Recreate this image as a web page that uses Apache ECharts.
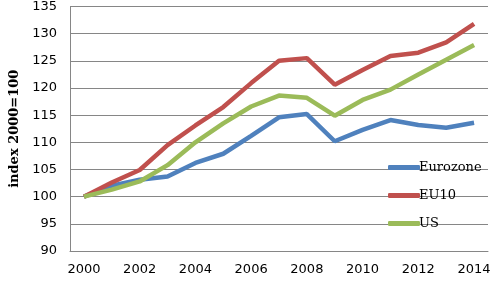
<!DOCTYPE html>
<html><head><meta charset="utf-8">
<script src="https://cdn.jsdelivr.net/npm/echarts@6/dist/echarts.min.js"></script>
<style>html,body{margin:0;padding:0;background:#fff}#c{width:497px;height:282px}</style>
</head><body><div id="c"></div>
<script>
const years = ['2000','2001','2002','2003','2004','2005','2006','2007','2008','2009','2010','2011','2012','2013','2014'];
const eurozone = [100, 102.0, 103.1, 103.7, 106.2, 107.9, 111.2, 114.6, 115.2, 110.2, 112.3, 114.1, 113.2, 112.7, 113.6];
const eu10 = [100, 102.6, 104.9, 109.5, 113.1, 116.5, 120.9, 125.0, 125.5, 120.6, 123.3, 125.9, 126.5, 128.4, 131.8];
const us = [100, 101.3, 102.8, 105.8, 110.0, 113.5, 116.6, 118.6, 118.2, 114.9, 117.8, 119.7, 122.5, 125.2, 127.9];
const yTitle = 'index 2000=100';

const chart = echarts.init(document.getElementById('c'));
const lw = 4.5;
chart.setOption({
  animation: false,
  grid: {left: 63, right: 9, top: 6, bottom: 31, containLabel: false},
  legend: {
    orient: 'vertical', left: 383, top: 155, itemGap: 13,
    itemWidth: 32, itemHeight: 5, icon: 'roundRect',
    textStyle: {fontFamily: 'DejaVu Serif', fontSize: 13, color: '#000', lineHeight: 15, padding: [0,0,0,-6]},
    data: ['Eurozone', 'EU10', 'US']
  },
  xAxis: {
    type: 'category', data: years, boundaryGap: true,
    axisLine: {show: true, lineStyle: {color: '#868686', width: 1}},
    axisTick: {show: false},
    axisLabel: {interval: 1, color: '#000', fontFamily: 'DejaVu Sans', fontSize: 13, margin: 12}
  },
  yAxis: {
    type: 'value', min: 90, max: 135, interval: 5,
    name: yTitle, nameLocation: 'middle', nameGap: 49,
    nameTextStyle: {fontFamily: 'DejaVu Serif', fontWeight: 'bold', fontSize: 13, color: '#000'},
    axisLine: {show: true, lineStyle: {color: '#868686', width: 1}},
    axisTick: {show: false},
    axisLabel: {color: '#000', fontFamily: 'DejaVu Sans', fontSize: 13, margin: 13},
    splitLine: {lineStyle: {color: '#868686', width: 1}}
  },
  series: [
    {name: 'Eurozone', type: 'line', data: eurozone, symbol: 'none', lineStyle: {width: lw, color: '#4F81BD'}, itemStyle: {color: '#4F81BD'}},
    {name: 'EU10', type: 'line', data: eu10, symbol: 'none', lineStyle: {width: lw, color: '#C0504D'}, itemStyle: {color: '#C0504D'}},
    {name: 'US', type: 'line', data: us, symbol: 'none', lineStyle: {width: lw, color: '#9BBB59'}, itemStyle: {color: '#9BBB59'}}
  ]
});
</script></body></html>
